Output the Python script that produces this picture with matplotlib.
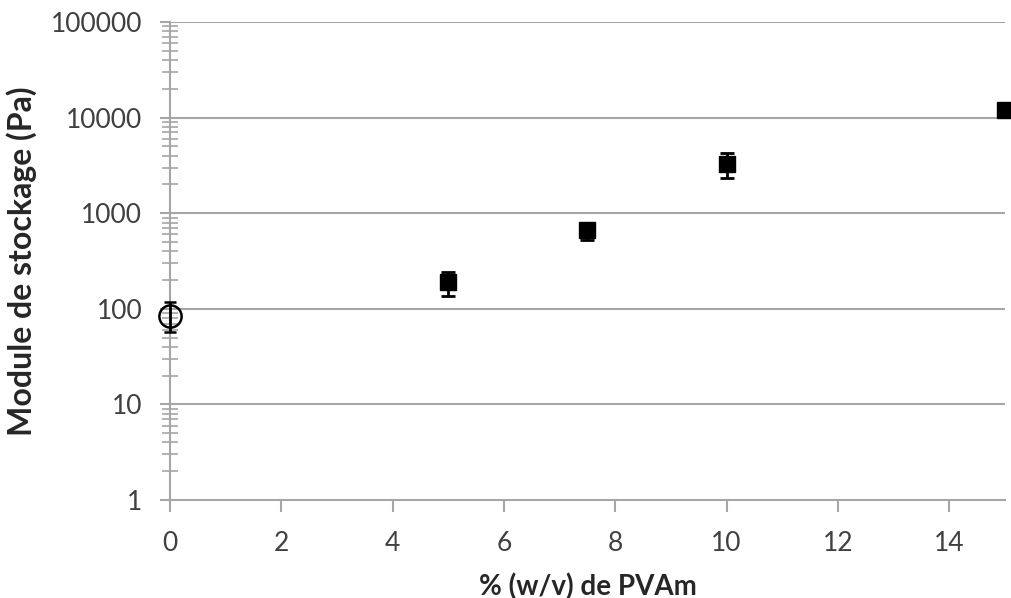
import matplotlib.pyplot as plt
import numpy as np
from matplotlib.ticker import LogLocator, FixedLocator, NullFormatter

plt.rcParams['font.family'] = ['Lato', 'DejaVu Sans']

# données
pvam_pct = [5, 7.5, 10, 15]
g_prime = [190, 660, 3250, 12000]
err_low = [55, 130, 900, 0]
err_high = [55, 100, 1000, 0]

ref_x = [0]
ref_g = [84]
ref_low = [27]
ref_high = [34]

y_ticks = [1, 10, 100, 1000, 10000, 100000]
x_ticks = [0, 2, 4, 6, 8, 10, 12, 14]

gris = '#a6a6a6'
texte = '#404040'

fig = plt.figure(figsize=(10.12, 5.98), dpi=100)
ax = fig.add_axes([0.168, 0.164, 0.825, 0.799])

ax.set_yscale('log')
ax.set_ylim(1, 100000)
ax.set_xlim(0, 15)

for y in y_ticks[1:]:
    ax.axhline(y, color=gris, lw=1.5, zorder=1)

ax.errorbar(pvam_pct, g_prime, yerr=[err_low, err_high], fmt='s', color='black',
            markersize=11, capsize=5, elinewidth=2, capthick=2, zorder=5, clip_on=False)
ax.errorbar(ref_x, ref_g, yerr=[ref_low, ref_high], fmt='o', mfc='none', mec='black',
            ecolor='black', markersize=16, mew=1.8, capsize=4, elinewidth=2, capthick=2,
            zorder=5, clip_on=False)

for s in ['top', 'right']:
    ax.spines[s].set_visible(False)
for s in ['left', 'bottom']:
    ax.spines[s].set_color(gris)
    ax.spines[s].set_linewidth(1.5)

ax.yaxis.set_major_locator(FixedLocator(y_ticks))
ax.set_yticklabels([str(v) for v in y_ticks])
ax.yaxis.set_minor_locator(LogLocator(base=10, subs=np.arange(2, 10)))
ax.yaxis.set_minor_formatter(NullFormatter())
ax.set_xticks(x_ticks)

ax.tick_params(axis='y', which='major', direction='out', length=7, width=1.5,
               color=gris, labelsize=19, labelcolor=texte, pad=13)
ax.tick_params(axis='y', which='minor', direction='inout', length=12, width=1.2,
               color=gris)
ax.tick_params(axis='x', which='major', direction='out', length=8.5, width=1.5,
               color=gris, labelsize=19, labelcolor=texte, pad=14)

ax.set_ylabel('Module de stockage (Pa)', fontsize=23, fontweight='bold', color='#262626',
              labelpad=10)
ax.set_xlabel('% (w/v) de PVAm', fontsize=20, fontweight='bold', color='#262626',
              labelpad=12)

fig.savefig('out.png', dpi=100)
